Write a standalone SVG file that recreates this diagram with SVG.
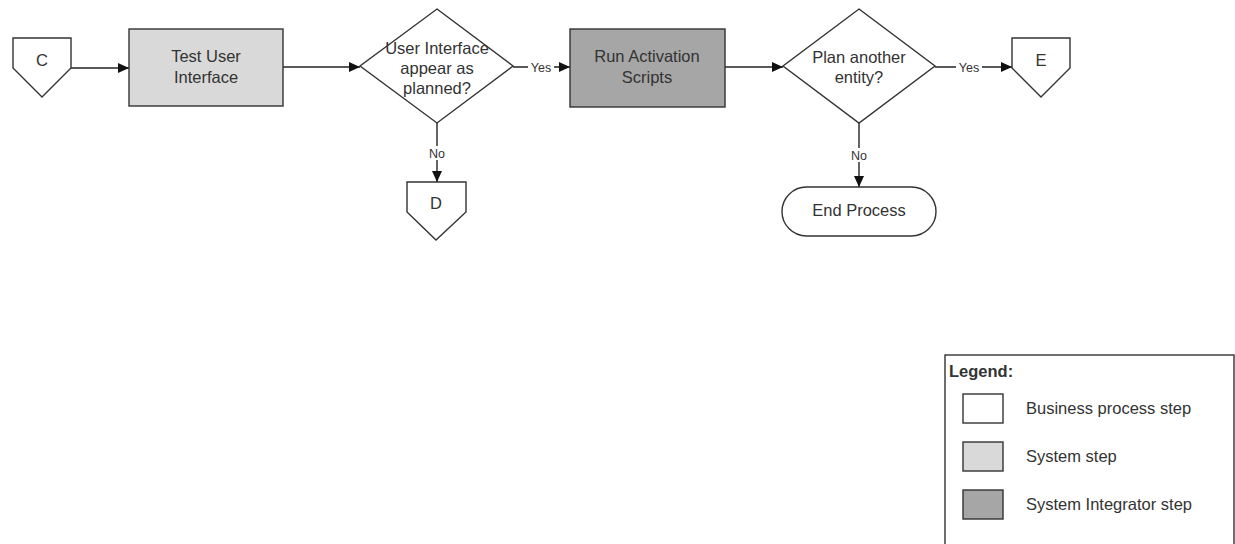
<svg xmlns="http://www.w3.org/2000/svg" width="1235" height="544" viewBox="0 0 1235 544">
<style>
.shape{stroke:#333;stroke-width:1.4;}
.white{fill:#fff;}
.light{fill:#d9d9d9;}
.dark{fill:#a6a6a6;}
.t{font-family:"Liberation Sans",Arial,sans-serif;font-size:16.5px;fill:#333;text-anchor:middle;}
.lbl{font-family:"Liberation Sans",Arial,sans-serif;font-size:12.5px;fill:#333;text-anchor:middle;}
.lt{font-family:"Liberation Sans",Arial,sans-serif;font-size:16.5px;fill:#333;}
.conn{stroke:#222;stroke-width:1.4;fill:none;marker-end:url(#arr);}
</style>
<defs>
<marker id="arr" markerUnits="userSpaceOnUse" markerWidth="12" markerHeight="10" refX="11" refY="5" orient="auto">
<path d="M0,0 L11,5 L0,10 Z" fill="#111"/>
</marker>
</defs>
<rect width="1235" height="544" fill="#fff"/>
<g id="connectors">
<line class="conn" x1="71" y1="68" x2="129" y2="68"/>
<line class="conn" x1="283" y1="67" x2="360" y2="67"/>
<line class="conn" x1="513" y1="67" x2="570" y2="67"/>
<line class="conn" x1="725" y1="67" x2="783" y2="67"/>
<line class="conn" x1="935" y1="67" x2="1012" y2="67"/>
<line class="conn" x1="437" y1="123" x2="437" y2="182"/>
<line class="conn" x1="859" y1="123" x2="859" y2="187"/>
<rect x="528" y="60" width="26" height="14" fill="#fff"/>
<text class="lbl" x="541" y="71.5">Yes</text>
<rect x="956" y="60" width="26" height="14" fill="#fff"/>
<text class="lbl" x="969" y="71.5">Yes</text>
<rect x="427" y="146" width="20" height="14" fill="#fff"/>
<text class="lbl" x="437" y="158">No</text>
<rect x="849" y="148" width="20" height="14" fill="#fff"/>
<text class="lbl" x="859" y="160">No</text>
</g>
<g id="node-C">
<polygon class="shape white" points="13,38 71,38 71,68 42,97 13,68"/>
<text class="t" x="42" y="66">C</text>
</g>
<g id="node-test">
<rect class="shape light" x="129" y="29" width="154" height="77"/>
<text class="t" x="206" y="62">Test User</text>
<text class="t" x="206" y="83">Interface</text>
</g>
<g id="node-dec1">
<polygon class="shape white" points="437,9 513,66 437,123 360,66"/>
<text class="t" x="437" y="54">User Interface</text>
<text class="t" x="437" y="74">appear as</text>
<text class="t" x="437" y="94">planned?</text>
</g>
<g id="node-run">
<rect class="shape dark" x="570" y="29" width="155" height="78"/>
<text class="t" x="647" y="62">Run Activation</text>
<text class="t" x="647" y="83">Scripts</text>
</g>
<g id="node-dec2">
<polygon class="shape white" points="859,9 935,66 859,123 783,66"/>
<text class="t" x="859" y="63">Plan another</text>
<text class="t" x="859" y="83">entity?</text>
</g>
<g id="node-E">
<polygon class="shape white" points="1012,38 1070,38 1070,68 1041,97 1012,68"/>
<text class="t" x="1041" y="66">E</text>
</g>
<g id="node-D">
<polygon class="shape white" points="407,182 466,182 466,212 436,240 407,212"/>
<text class="t" x="436" y="209">D</text>
</g>
<g id="node-end">
<rect class="shape white" x="782" y="187" width="154" height="49" rx="24.5" ry="24.5"/>
<text class="t" x="859" y="216">End Process</text>
</g>
<g id="legend">
<rect class="shape white" x="945" y="355" width="289" height="195"/>
<text class="lt" x="949" y="377" font-weight="bold">Legend:</text>
<rect class="shape white" x="963" y="394" width="40" height="29"/>
<text class="lt" x="1026" y="414">Business process step</text>
<rect class="shape light" x="963" y="442" width="40" height="29"/>
<text class="lt" x="1026" y="462">System step</text>
<rect class="shape dark" x="963" y="490" width="40" height="29"/>
<text class="lt" x="1026" y="510">System Integrator step</text>
</g>
</svg>
